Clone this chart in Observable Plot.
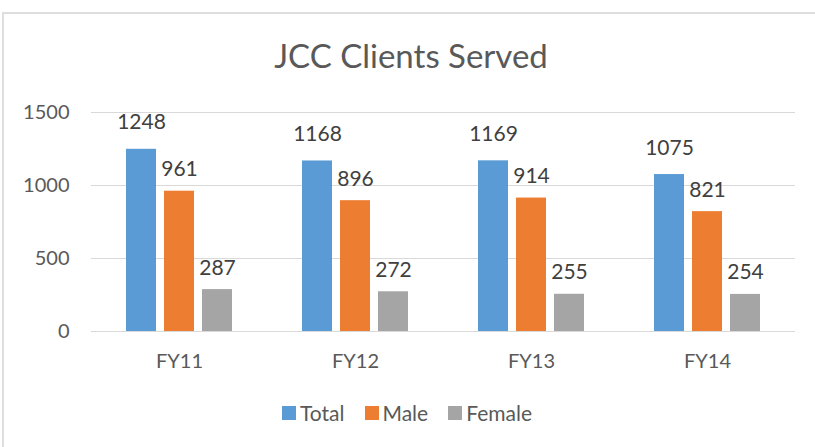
<!DOCTYPE html>
<html><head><meta charset="utf-8">
<script src="https://cdn.jsdelivr.net/npm/d3@7"></script>
<script src="https://cdn.jsdelivr.net/npm/@observablehq/plot@0.6"></script>
<style>
body{margin:0;background:#fff;font-family:Lato,"Open Sans",sans-serif;}
#frame{position:relative;width:815px;height:447px;overflow:hidden;background:#fff;}
#border{position:absolute;left:2px;top:12px;width:830px;height:460px;border-top:2px solid #dedede;border-left:2px solid #dedede;}
#title{position:absolute;top:36px;left:0;width:822px;text-align:center;font-size:33px;color:#595959;line-height:38px;}
#chart{position:absolute;left:0;top:80px;}
#legend{position:absolute;top:396px;left:0;width:834px;display:flex;justify-content:center;}
.lg-swatches{margin:0 !important;font-family:Lato,"Open Sans",sans-serif !important;font-size:21px !important;color:#595959 !important;}
.lg-swatch{margin-right:20px !important;}
.lg-swatch > svg{margin-right:4px !important;}
</style>
</head><body>
<div id="frame">
  <div id="border"></div>
  <div id="title">JCC Clients Served</div>
  <div id="chart"></div>
  <div id="legend"></div>
</div>
<script>
const years = ["FY11","FY12","FY13","FY14"];
const series = ["Total","Male","Female"];
const total = [1248,1168,1169,1075];
const male = [961,896,914,821];
const female = [287,272,255,254];
const colors = ["#5B9BD5","#ED7D31","#A5A5A5"];
const yTicks = [0,500,1000,1500];

const valuesBySeries = {Total: total, Male: male, Female: female};
const data = [];
years.forEach((yr, i) => series.forEach(s => data.push({year: yr, series: s, value: valuesBySeries[s][i]})));

const font = 'Lato, "Open Sans", sans-serif';
const chart = Plot.plot({
  width: 815,
  height: 310,
  marginLeft: 90,
  marginRight: 20,
  marginTop: 32,
  marginBottom: 59,
  style: {fontFamily: font, background: "transparent", overflow: "visible"},
  fx: {domain: years, padding: 0, label: null},
  x: {domain: series, paddingInner: 0.205, paddingOuter: 0.86, axis: null},
  y: {domain: [0, 1500], axis: null},
  color: {domain: series, range: colors},
  marks: [
    Plot.ruleY(yTicks, {stroke: "#d9d9d9", strokeWidth: 1}),
    Plot.barY(data, {fx: "year", x: "series", y: "value", fill: "series"}),
    Plot.text(data.filter(d => d.series === "Total"), {fx: "year", x: "series", y: "value", text: d => String(d.value), lineAnchor: "bottom", dy: -20, fontSize: 21, fill: "#404040"}),
    Plot.text(data.filter(d => d.series !== "Total"), {fx: "year", x: "series", y: "value", text: d => String(d.value), lineAnchor: "bottom", dy: -15, fontSize: 21, fill: "#404040"}),
    Plot.axisY({ticks: yTicks, tickFormat: d => String(d), tickSize: 0, tickPadding: 22, fontSize: 20, label: null, fill: "#595959"}),
    Plot.axisFx({anchor: "bottom", tickSize: 0, tickPadding: 22, fontSize: 20, label: null, fill: "#595959"})
  ]
});
document.getElementById("chart").appendChild(chart);

const legend = Plot.legend({
  color: {domain: series, range: colors},
  legend: "swatches",
  swatchSize: 14,
  className: "lg"
});
document.getElementById("legend").appendChild(legend);
</script>
</body></html>
